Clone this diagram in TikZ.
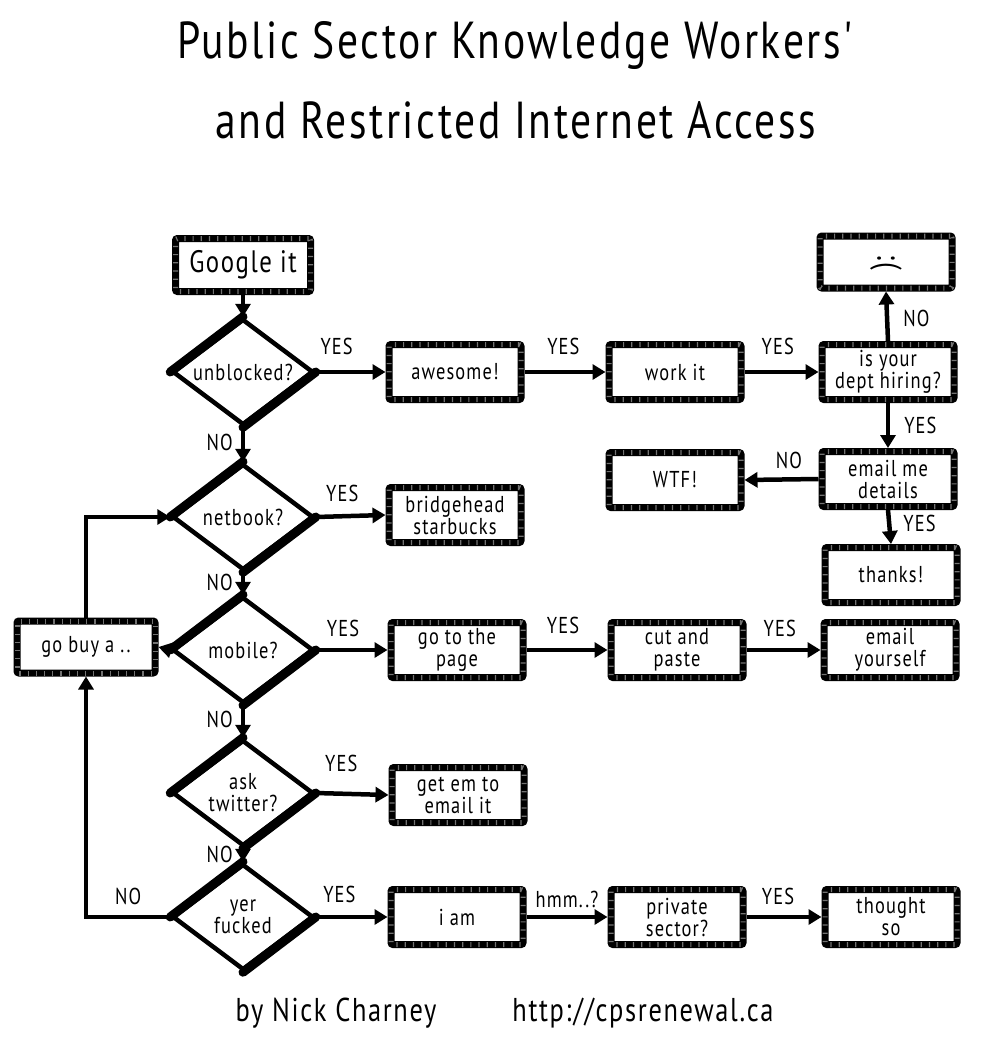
\documentclass[tikz,border=0pt]{standalone}
\usepackage{fontspec}
\newfontfamily\hand[FakeStretch=0.8,LetterSpace=5]{PT Sans}
\usetikzlibrary{shapes.geometric,arrows.meta}
\begin{document}
\begin{tikzpicture}[x=1pt,y=-1pt,
  box/.style={draw=black,line width=7pt,rounded corners=2pt,minimum width=132pt,minimum height=55pt,inner sep=0pt,align=center,fill=white,font=\hand\fontsize{23}{22}\selectfont,
    postaction={draw=black!55,line width=5pt,dash pattern=on 1.2pt off 7pt}},
  dia/.style={diamond,draw=black,line width=4.5pt,minimum width=141pt,minimum height=106pt,inner sep=0pt,fill=white},
  dtext/.style={align=center,inner sep=0pt,font=\hand\fontsize{23}{22}\selectfont},
  conn/.style={line width=4.5pt,-{Triangle[length=13pt,width=15pt]}},
  lab/.style={inner sep=2pt,font=\hand\fontsize{23}{22}\selectfont},
  thickedge/.style={line width=9pt,line cap=round},
  title/.style={font=\hand\fontsize{52}{52}\selectfont},
  foot/.style={font=\hand\fontsize{33}{33}\selectfont}
]
\useasboundingbox (0,0) rectangle (984,1058);

% title
\node[title] (t1) at (515,45) {Public Sector Knowledge Workers'};
\node[title] (t2) at (516,120) {and Restricted Internet Access};

% diamonds
\node[dia] (unb) at (243,372) {};
\node[dia] (net) at (243,517) {};
\node[dia] (mob) at (243,650) {};
\node[dia] (tw)  at (243,793) {};
\node[dia] (fk)  at (243,917) {};
\foreach \d in {unb,net,mob,tw,fk}{
  \draw[thickedge] (\d.west) -- (\d.north);
  \draw[thickedge] (\d.east) -- (\d.south);
}
\node[dtext] (unbt) at (unb) {unblocked?};
\node[dtext] (nett) at (net) {netbook?};
\node[dtext] (mobt) at (mob) {mobile?};
\node[dtext] (twt)  at (tw)  {ask\\twitter?};
\node[dtext] (fkt)  at (fk)  {yer\\fucked};

% boxes
\node[box,minimum width=135pt,minimum height=53pt,font=\hand\fontsize{31}{30}\selectfont] (google) at (243,265) {Google it};
\node[box] (awe)  at (455,372) {awesome!};
\node[box] (work) at (675,372) {work it};
\node[box] (hire) at (888,372) {is your\\dept hiring?};
\node[box,minimum height=52pt,font=\hand\fontsize{34}{34}\selectfont] (sad) at (886,262) {\rotatebox{-90}{:(}};
\node[box] (emme) at (888,479) {email me\\details};
\node[box] (wtf)  at (675,480) {WTF!};
\node[box] (thx)  at (891,575) {thanks!};
\node[box] (brid) at (455,515) {bridgehead\\starbucks};
\node[box,minimum width=138pt,minimum height=52pt] (buy) at (86,647) {go buy a ..};
\node[box] (page) at (457,650) {go to the\\page};
\node[box] (cut)  at (677,650) {cut and\\paste};
\node[box] (emyo) at (890,650) {email\\yourself};
\node[box] (getem) at (458,795) {get em to\\email it};
\node[box] (iam)  at (457,917) {i am};
\node[box] (priv) at (677,917) {private\\sector?};
\node[box] (tho)  at (891,917) {thought\\so};

% footer
\node[foot] (by)  at (336,1013) {by Nick Charney};
\node[foot] (url) at (643,1013) {http://cpsrenewal.ca};

% connectors
\draw[conn] (google.south) -- (unb.north);
\draw[conn] (unb.east) -- node[lab,above=13pt,pos=0.3] (l1) {YES} (awe.west);
\draw[conn] (awe.east) -- node[lab,above=13pt,pos=0.48] (l2) {YES} (work.west);
\draw[conn] (work.east) -- node[lab,above=13pt,pos=0.45] (l3) {YES} (hire.west);
\draw[conn] (hire.north) -- node[lab,right=12pt,pos=0.45] (l4) {NO} (sad.south);
\draw[conn] (hire.south) -- node[lab,right=12pt,pos=0.5] (l5) {YES} (emme.north);
\draw[conn] (emme.west) -- node[lab,above=6pt,pos=0.4] (l6) {NO} (wtf.east);
\draw[conn] (emme.south) -- node[lab,right=10pt,pos=0.4] (l7) {YES} (thx.north);
\draw[conn] (unb.south) -- node[lab,left=6pt,pos=0.45] (l8) {NO} (net.north);
\draw[conn] (net.east) -- node[lab,above=10pt,pos=0.38] (l9) {YES} (brid.west);
\draw[conn] (net.south) -- node[lab,left=6pt,pos=0.45] (l10) {NO} (mob.north);
\draw[conn] (mob.west) -- (buy.east);
\draw[conn] (buy.north) |- (net.west);
\draw[conn] (mob.east) -- node[lab,above=9pt,pos=0.38] (l11) {YES} (page.west);
\draw[conn] (page.east) -- node[lab,above=12pt,pos=0.45] (l12) {YES} (cut.west);
\draw[conn] (cut.east) -- node[lab,above=9pt,pos=0.45] (l13) {YES} (emyo.west);
\draw[conn] (mob.south) -- node[lab,left=6pt,pos=0.45] (l14) {NO} (tw.north);
\draw[conn] (tw.east) -- node[lab,above=18pt,pos=0.35] (l15) {YES} (getem.west);
\draw[conn] (tw.south) -- node[lab,left=6pt,pos=0.45] (l16) {NO} (fk.north);
\draw[conn] (fk.west) -| node[lab,above=8pt,pos=0.25] (l17) {NO} (buy.south);
\draw[conn] (fk.east) -- node[lab,above=10pt,pos=0.33] (l18) {YES} (iam.west);
\draw[conn] (iam.east) -- node[lab,above=5pt,pos=0.5] (l19) {hmm..?} (priv.west);
\draw[conn] (priv.east) -- node[lab,above=8pt,pos=0.42] (l20) {YES} (tho.west);
\end{tikzpicture}
\end{document}
